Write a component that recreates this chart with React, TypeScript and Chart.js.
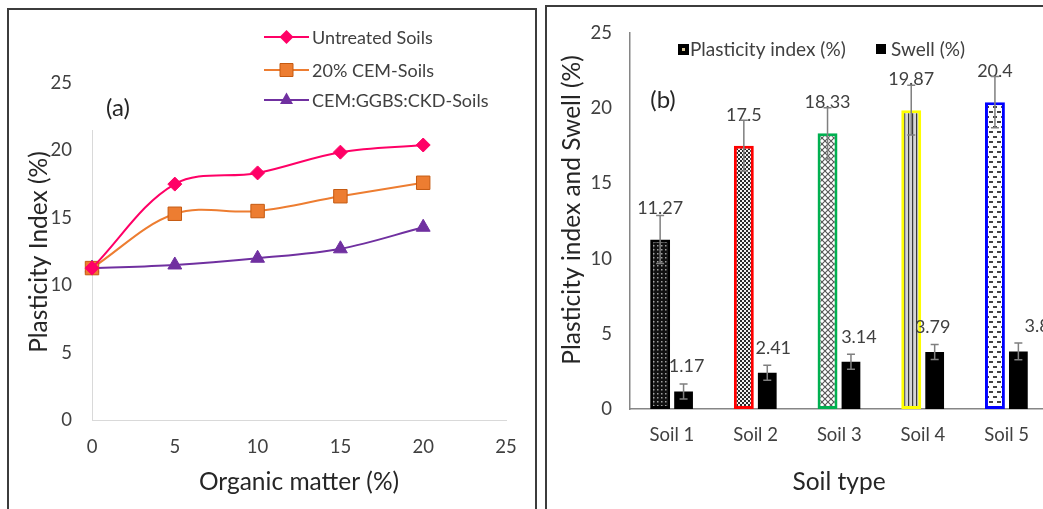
import React, { useEffect, useRef } from 'react';
import { Chart, registerables } from 'chart.js';

Chart.register(...registerables);

const FONT = 'Lato, "Open Sans", sans-serif';

// ---- Panel (a) data ----
const organicMatter = [0, 5, 10, 15, 20];
const untreatedSoils = [11.27, 17.5, 18.33, 19.87, 20.4];
const cemSoils = [11.27, 15.3, 15.5, 16.6, 17.6];
const blendSoils = [11.27, 11.5, 12.0, 12.7, 14.3];
const lineSeriesLabels = ['Untreated Soils', '20% CEM-Soils', 'CEM:GGBS:CKD-Soils'];

// ---- Panel (b) data ----
const soilTypes = ['Soil 1', 'Soil 2', 'Soil 3', 'Soil 4', 'Soil 5'];
const plasticityIndex = [11.27, 17.5, 18.33, 19.87, 20.4];
const plasticityError = [1.6, 1.7, 1.7, 1.65, 1.7];
const swell = [1.17, 2.41, 3.14, 3.79, 3.83];
const swellError = [0.5, 0.5, 0.5, 0.5, 0.55];
const barSeriesLabels = ['Plasticity index (%)', 'Swell (%)'];

const TEXT = '#262626';
const TICK = '#404040';

function makePattern(kind: number): CanvasPattern {
  const c = document.createElement('canvas');
  const sizes = [[4, 4], [4, 4], [6, 6], [4, 4], [8, 10]];
  c.width = sizes[kind][0];
  c.height = sizes[kind][1];
  const g = c.getContext('2d')!;
  if (kind === 0) {
    g.fillStyle = '#111';
    g.fillRect(0, 0, 4, 4);
    g.fillStyle = '#a0a0a0';
    g.fillRect(1, 1, 1.5, 1.5);
  } else if (kind === 1) {
    g.fillStyle = '#f2f2f2';
    g.fillRect(0, 0, 4, 4);
    g.fillStyle = '#2a2a2a';
    g.fillRect(0, 0, 2, 2);
    g.fillRect(2, 2, 2, 2);
  } else if (kind === 2) {
    g.fillStyle = '#ffffff';
    g.fillRect(0, 0, 6, 6);
    g.strokeStyle = '#555';
    g.lineWidth = 1.1;
    g.beginPath();
    g.moveTo(0, 0); g.lineTo(6, 6);
    g.moveTo(6, 0); g.lineTo(0, 6);
    g.stroke();
  } else if (kind === 3) {
    g.fillStyle = '#d6d6d6';
    g.fillRect(0, 0, 4, 4);
    g.fillStyle = '#3a3a3a';
    g.fillRect(0, 0, 1.2, 4);
  } else {
    g.fillStyle = '#ffffff';
    g.fillRect(0, 0, 8, 10);
    g.fillStyle = '#444';
    g.fillRect(1, 1, 4, 2);
    g.fillRect(5, 6, 3, 2);
    g.fillRect(0, 6, 1, 2);
  }
  return g.createPattern(c, 'repeat')!;
}

const lineColors = ['#FF0066', '#ED7D31', '#7030A0'];

function drawMarker(ctx: CanvasRenderingContext2D, kind: number, x: number, y: number) {
  ctx.save();
  ctx.beginPath();
  if (kind === 0) {
    ctx.moveTo(x, y - 7); ctx.lineTo(x + 7, y); ctx.lineTo(x, y + 7); ctx.lineTo(x - 7, y);
    ctx.closePath();
    ctx.fillStyle = lineColors[0];
    ctx.fill();
  } else if (kind === 1) {
    ctx.rect(x - 6.5, y - 6.5, 13, 13);
    ctx.fillStyle = lineColors[1];
    ctx.fill();
    ctx.strokeStyle = '#C55A11';
    ctx.lineWidth = 1;
    ctx.stroke();
  } else {
    ctx.moveTo(x, y - 7.5); ctx.lineTo(x + 6.5, y + 4); ctx.lineTo(x - 6.5, y + 4);
    ctx.closePath();
    ctx.fillStyle = lineColors[2];
    ctx.fill();
  }
  ctx.restore();
}

const decorA = {
  id: 'decorA',
  afterDraw(chart: any) {
    const { ctx, chartArea } = chart;
    ctx.save();
    // white text box behind "(a)"
    ctx.fillStyle = '#fff';
    ctx.fillRect(chartArea.left - 3, chartArea.top - 2, 56, 132 - chartArea.top);
    ctx.fillStyle = TEXT;
    ctx.font = `24px ${FONT}`;
    ctx.textAlign = 'center';
    ctx.textBaseline = 'middle';
    ctx.fillText('(a)', 118, 108);

    // legend
    const rows = [37, 70, 100];
    ctx.font = `18px ${FONT}`;
    ctx.textAlign = 'left';
    rows.forEach((ry, i) => {
      ctx.strokeStyle = lineColors[i];
      ctx.lineWidth = 2;
      ctx.beginPath();
      ctx.moveTo(264, ry);
      ctx.lineTo(309, ry);
      ctx.stroke();
      drawMarker(ctx, i, 286.5, ry);
      ctx.fillStyle = '#404040';
      ctx.fillText(chart.data.datasets[i].label, 312, ry + 1);
    });

    // axis titles
    ctx.fillStyle = TEXT;
    ctx.font = `24.5px ${FONT}`;
    ctx.textAlign = 'center';
    ctx.fillText('Organic matter (%)', 299, 482);
    ctx.translate(39, 252);
    ctx.rotate(-Math.PI / 2);
    ctx.fillText('Plasticity Index (%)', 0, 0);
    ctx.restore();
  },
};

const decorB = {
  id: 'decorB',
  afterDatasetsDraw(chart: any, _args: any, opts: any) {
    const { ctx } = chart;
    const yScale = chart.scales.y;
    ctx.save();
    // data labels
    ctx.font = `18px ${FONT}`;
    ctx.fillStyle = '#404040';
    ctx.textAlign = 'center';
    ctx.textBaseline = 'middle';
    chart.data.datasets.forEach((ds: any, di: number) => {
      const meta = chart.getDatasetMeta(di);
      meta.data.forEach((el: any, i: number) => {
        const dx = di === 1 ? opts.swellLabelShift[i] : 0;
        const dy = di === 0 ? 31 : 25;
        ctx.fillText(String(ds.data[i]), el.x + dx, el.y - dy);
      });
    });
    // error bars
    ctx.strokeStyle = '#7f7f7f';
    ctx.lineWidth = 1.5;
    chart.data.datasets.forEach((ds: any, di: number) => {
      const meta = chart.getDatasetMeta(di);
      const errs = di === 0 ? plasticityError : swellError;
      meta.data.forEach((el: any, i: number) => {
        const v = ds.data[i];
        const yHi = yScale.getPixelForValue(v + errs[i]);
        const yLo = yScale.getPixelForValue(v - errs[i]);
        const x = el.x;
        ctx.beginPath();
        ctx.moveTo(x, yHi); ctx.lineTo(x, yLo);
        ctx.moveTo(x - 4, yHi); ctx.lineTo(x + 4, yHi);
        ctx.moveTo(x - 4, yLo); ctx.lineTo(x + 4, yLo);
        ctx.stroke();
      });
    });
    ctx.restore();
  },
  afterDraw(chart: any) {
    const { ctx } = chart;
    ctx.save();
    ctx.fillStyle = TEXT;
    ctx.textAlign = 'center';
    ctx.textBaseline = 'middle';
    ctx.font = `24px ${FONT}`;
    ctx.fillText('(b)', 123, 100);

    // legend
    ctx.fillStyle = '#000';
    ctx.fillRect(138, 44, 11, 11);
    ctx.fillStyle = '#d8c79a';
    ctx.fillRect(142, 48, 3, 3);
    ctx.font = `19px ${FONT}`;
    ctx.textAlign = 'left';
    ctx.fillStyle = '#404040';
    ctx.fillText(chart.data.datasets[0].label, 150, 50);
    ctx.fillStyle = '#000';
    ctx.fillRect(336, 44, 10, 10);
    ctx.fillStyle = '#404040';
    ctx.fillText(chart.data.datasets[1].label, 351, 50);

    // axis titles
    ctx.fillStyle = TEXT;
    ctx.textAlign = 'center';
    ctx.font = `24.5px ${FONT}`;
    ctx.fillText('Soil type', 299, 482);
    ctx.font = `24.5px ${FONT}`;
    ctx.translate(32, 210);
    ctx.rotate(-Math.PI / 2);
    ctx.fillText('Plasticity index and Swell (%)', 0, 0);
    ctx.restore();
  },
};

export default function App() {
  const refA = useRef<HTMLCanvasElement>(null);
  const refB = useRef<HTMLCanvasElement>(null);

  useEffect(() => {
    const tickFont = { family: FONT, size: 18.5 };
    const makeLine = (label: string, values: number[], i: number, style: string, radius: number) => ({
      label,
      data: organicMatter.map((x, k) => ({ x, y: values[k] })),
      borderColor: lineColors[i],
      backgroundColor: lineColors[i],
      pointBackgroundColor: lineColors[i],
      pointBorderColor: i === 1 ? '#C55A11' : lineColors[i],
      pointBorderWidth: 1,
      borderWidth: 2,
      tension: 0.35,
      pointStyle: style,
      pointRadius: radius,
      clip: false as any,
    });

    const chartA = new Chart(refA.current!, {
      type: 'line',
      data: {
        datasets: [
          makeLine(lineSeriesLabels[0], untreatedSoils, 0, 'rectRot', 7),
          makeLine(lineSeriesLabels[1], cemSoils, 1, 'rect', 9.5),
          makeLine(lineSeriesLabels[2], blendSoils, 2, 'triangle', 8),
        ] as any,
      },
      options: {
        responsive: false,
        animation: false,
        layout: { padding: { left: 0, top: 83, right: 34, bottom: 0 } },
        plugins: { legend: { display: false }, tooltip: { enabled: false } },
        scales: {
          x: {
            type: 'linear',
            min: 0,
            max: 25,
            ticks: { stepSize: 5, padding: 16, color: TICK, font: tickFont },
            grid: { display: false, drawTicks: false },
            border: { display: true, color: '#d9d9d9', width: 1 },
            afterFit: (s: any) => { s.height = 89; },
          },
          y: {
            min: 0,
            max: 25,
            ticks: { stepSize: 5, padding: 20, color: TICK, font: tickFont },
            grid: { display: false, drawTicks: false },
            border: { display: true, color: '#d9d9d9', width: 1 },
            afterFit: (s: any) => { s.width = 92; },
          },
        },
      },
      plugins: [decorA],
    });

    const patterns = [0, 1, 2, 3, 4].map(makePattern);
    const chartB = new Chart(refB.current!, {
      type: 'bar',
      data: {
        labels: soilTypes,
        datasets: [
          {
            label: barSeriesLabels[0],
            data: plasticityIndex,
            backgroundColor: patterns as any,
            borderColor: ['#000000', '#FF0000', '#00B050', '#FFFF00', '#0000FF'],
            borderWidth: 3,
            borderSkipped: false,
            categoryPercentage: 0.56,
            barPercentage: 0.85,
          },
          {
            label: barSeriesLabels[1],
            data: swell,
            backgroundColor: '#000000',
            borderWidth: 0,
            categoryPercentage: 0.56,
            barPercentage: 0.8,
          },
        ],
      },
      options: {
        responsive: false,
        animation: false,
        layout: { padding: { left: 0, top: 33, right: 11.5, bottom: 0 } },
        plugins: {
          legend: { display: false },
          tooltip: { enabled: false },
          decorB: { swellLabelShift: [3, 6, 8, -2, 24] },
        } as any,
        scales: {
          x: {
            ticks: { padding: 15, color: TICK, font: tickFont },
            grid: { display: false, drawTicks: false },
            border: { display: true, color: '#868686', width: 1.5 },
            afterFit: (s: any) => { s.height = 100; },
          },
          y: {
            min: 0,
            max: 25,
            ticks: { stepSize: 5, padding: 18, color: TICK, font: tickFont },
            grid: { display: false, drawTicks: false },
            border: { display: true, color: '#868686', width: 1.5 },
            afterFit: (s: any) => { s.width = 90; },
          },
        },
      },
      plugins: [decorB],
    });

    return () => {
      chartA.destroy();
      chartB.destroy();
    };
  }, []);

  return (
    <div style={{ position: 'fixed', left: 0, top: 0, width: 1043, height: 509, overflow: 'hidden', background: '#fff' }}>
      <div style={{ position: 'absolute', left: 7, top: 8, width: 526, height: 520, border: '2px solid #3c3c3c' }} />
      <div style={{ position: 'absolute', left: 545, top: 5, width: 600, height: 520, border: '2px solid #3c3c3c' }} />
      <canvas ref={refA} width={540} height={509} style={{ position: 'absolute', left: 0, top: 0, width: 540, height: 509 }} />
      <canvas ref={refB} width={520} height={509} style={{ position: 'absolute', left: 540, top: 0, width: 520, height: 509 }} />
    </div>
  );
}
